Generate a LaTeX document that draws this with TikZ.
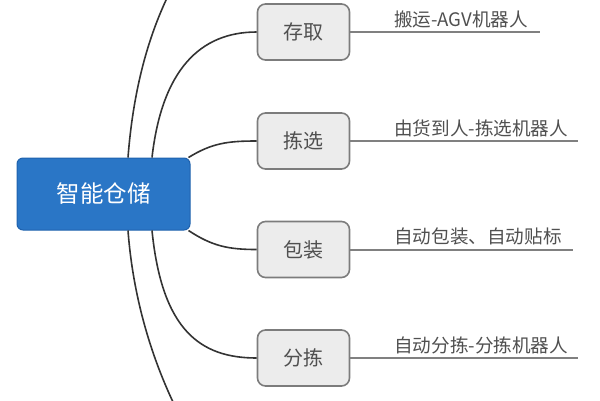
\documentclass[tikz,border=0pt]{standalone}
\usepackage{fontspec}
\setmainfont{Noto Sans CJK SC}
\usetikzlibrary{calc}
\definecolor{cblue}{HTML}{2A76C6}
\definecolor{cblueb}{HTML}{1F62AE}
\definecolor{boxfill}{HTML}{ECECEC}
\definecolor{boxdraw}{HTML}{7C7C7C}
\definecolor{txt}{HTML}{505050}
\definecolor{curve}{HTML}{333333}
\definecolor{uline}{HTML}{808080}
\tikzset{
  central/.style={draw=cblueb, line width=1pt, fill=cblue, rounded corners=6pt, minimum width=173pt, minimum height=72pt, inner sep=0pt, text=white, font=\fontsize{23.5}{25}\selectfont},
  topic/.style={draw=boxdraw, line width=1.6pt, fill=boxfill, rounded corners=8pt, minimum width=92pt, minimum height=56pt, inner sep=0pt, text=txt, font=\fontsize{20}{22}\selectfont},
  detail/.style={anchor=south west, inner sep=0pt, text=txt, font=\fontsize{18.6}{20}\selectfont},
  branch/.style={draw=curve, line width=1.6pt},
  underline/.style={draw=uline, line width=2pt},
}
\begin{document}
\begin{tikzpicture}[x=1pt,y=-1pt]
\useasboundingbox (0,0) rectangle (600,400);
\node[central] (c) at (103.5,194) {智能仓储};
\node[topic] (t1) at (303.5,32) {存取};
\node[topic] (t2) at (303.5,141) {拣选};
\node[topic] (t3) at (303.5,249.5) {包装};
\node[topic] (t4) at (303.5,358) {分拣};
\coordinate (e1) at (540,32);
\coordinate (e2) at (578,141);
\coordinate (e3) at (573,249.5);
\coordinate (e4) at (578,358);
\coordinate (top) at (167,-2);
\coordinate (bot) at (173,402);
\draw[underline] (t1.east) -- (e1);
\draw[underline] (t2.east) -- (e2);
\draw[underline] (t3.east) -- (e3);
\draw[underline] (t4.east) -- (e4);
\node[detail] (d1) at (394,28) {搬运-AGV机器人};
\node[detail] (d2) at (394,137) {由货到人-拣选机器人};
\node[detail] (d3) at (394,245.5) {自动包装、自动贴标};
\node[detail] (d4) at (394,354) {自动分拣-分拣机器人};
\draw[branch] ([xshift=24.5pt]c.north) .. controls (134,80) and (152,30) .. (top);
\draw[branch] ([xshift=48.5pt]c.north) .. controls (162,70) and (200,32) .. (t1.west);
\draw[branch] ([xshift=-2pt]c.north east) .. controls (212,143) and (228,141) .. (t2.west);
\draw[branch] ([xshift=-2pt]c.south east) .. controls (212,246) and (228,249.5) .. (t3.west);
\draw[branch] ([xshift=48.5pt]c.south) .. controls (162,330) and (200,358) .. (t4.west);
\draw[branch] ([xshift=24.5pt]c.south) .. controls (134,310) and (158,370) .. (bot);
\end{tikzpicture}
\end{document}
